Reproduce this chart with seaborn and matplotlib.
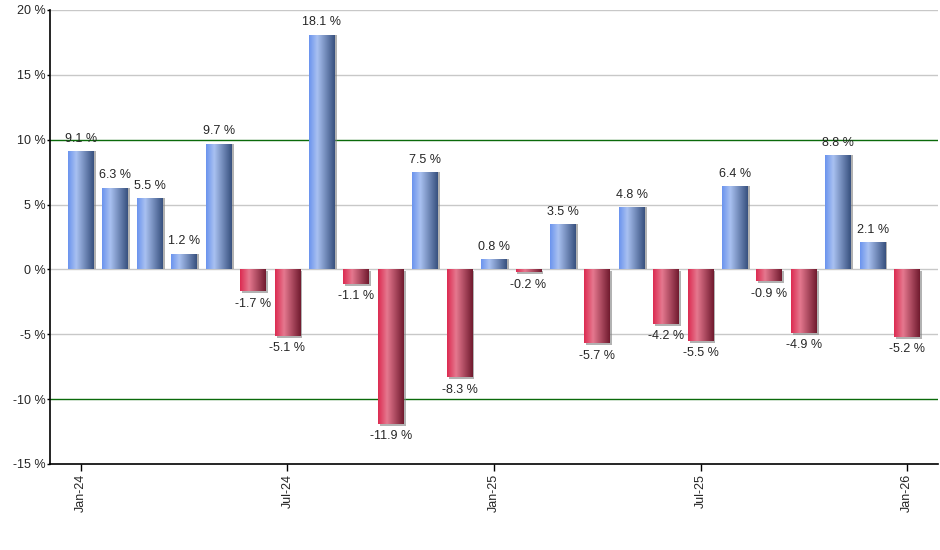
import numpy as np
import pandas as pd
import matplotlib
matplotlib.use("Agg")
import matplotlib.pyplot as plt
import seaborn as sns
from matplotlib import patheffects as pe
from matplotlib.colors import LinearSegmentedColormap

months = ["Jan-24", "Feb-24", "Mar-24", "Apr-24", "May-24", "Jun-24", "Jul-24",
          "Aug-24", "Sep-24", "Oct-24", "Nov-24", "Dec-24", "Jan-25", "Feb-25",
          "Mar-25", "Apr-25", "May-25", "Jun-25", "Jul-25", "Aug-25", "Sep-25",
          "Oct-25", "Nov-25", "Dec-25", "Jan-26"]
values = [9.1, 6.3, 5.5, 1.2, 9.7, -1.7, -5.1, 18.1, -1.1, -11.9, 7.5, -8.3,
          0.8, -0.2, 3.5, -5.7, 4.8, -4.2, -5.5, 6.4, -0.9, -4.9, 8.8, 2.1, -5.2]
shown_ticks = ["Jan-24", "Jul-24", "Jan-25", "Jul-25", "Jan-26"]
y_ticks = [-15, -10, -5, 0, 5, 10, 15, 20]

df = pd.DataFrame({"month": months, "value": values})
df["sign"] = np.where(df["value"] >= 0, "pos", "neg")

sns.set_style("white")
plt.rcParams["font.family"] = ["Liberation Sans", "DejaVu Sans"]

fig = plt.figure(figsize=(9.4, 5.5), dpi=100)
ax = fig.add_axes([50 / 940, 1 - 464 / 550, 888 / 940, 454 / 550])

sns.barplot(data=df, x="month", y="value", hue="sign",
            palette={"pos": "#7f9fe0", "neg": "#d03050"},
            dodge=False, legend=False, width=0.75, ax=ax, zorder=3)

blue_cmap = LinearSegmentedColormap.from_list(
    "b", [(0, "#6a93ee"), (0.32, "#a9c1f1"), (1, "#37507e")])
red_cmap = LinearSegmentedColormap.from_list(
    "r", [(0, "#dc2a50"), (0.35, "#e5788f"), (1, "#701a2e")])
grad = np.linspace(0, 1, 256).reshape(1, -1)

for p in ax.patches:
    h = p.get_height()
    if h == 0 and p.get_width() == 0:
        continue
    x0 = p.get_x()
    w = p.get_width()
    y0 = p.get_y()
    cmap = blue_cmap if h >= 0 else red_cmap
    p.set_facecolor("white")
    p.set_edgecolor("none")
    off = (1.4, -1.4) if h < 0 else (1.4, 0)
    p.set_path_effects([pe.SimplePatchShadow(offset=off,
                                             shadow_rgbFace="#808080", alpha=0.6),
                        pe.Normal()])
    im = ax.imshow(grad, cmap=cmap, aspect="auto",
                   extent=(x0, x0 + w, y0, y0 + h), zorder=4,
                   interpolation="bilinear")
    im.set_clip_path(p)

for i, v in enumerate(values):
    if v >= 0:
        ax.text(i, v + 0.5, f"{v:.1f} %", ha="center", va="bottom",
                fontsize=9, zorder=6)
    else:
        ax.text(i, v - 0.5, f"{v:.1f} %", ha="center", va="top",
                fontsize=9, zorder=6)

for yv in [20, 15, 5, 0, -5]:
    ax.axhline(yv, color="#c8c8c8", lw=1, zorder=1)
for yv in [10, -10]:
    ax.axhline(yv, color="#0a6a0a", lw=1, zorder=1)

ax.set_ylim(-15, 20)
ax.set_xlim(-0.9, len(months) - 0.1)
ax.set_yticks(y_ticks)
ax.set_yticklabels([f"{t} %" for t in y_ticks], fontsize=9)
tick_pos = [months.index(m) for m in shown_ticks]
ax.set_xticks(tick_pos)
ax.set_xticklabels(shown_ticks, rotation=90, fontsize=9)
ax.set_xlabel("")
ax.set_ylabel("")
ax.tick_params(axis="x", bottom=True, length=5, width=1, color="black",
               direction="out", pad=2)
ax.tick_params(axis="y", left=True, length=2, width=1, color="black",
               direction="out", pad=1)
for s in ["top", "right"]:
    ax.spines[s].set_visible(False)
for s in ["left", "bottom"]:
    ax.spines[s].set_color("black")
    ax.spines[s].set_linewidth(1.2)
    ax.spines[s].set_zorder(7)

fig.savefig("out.png", dpi=100)
